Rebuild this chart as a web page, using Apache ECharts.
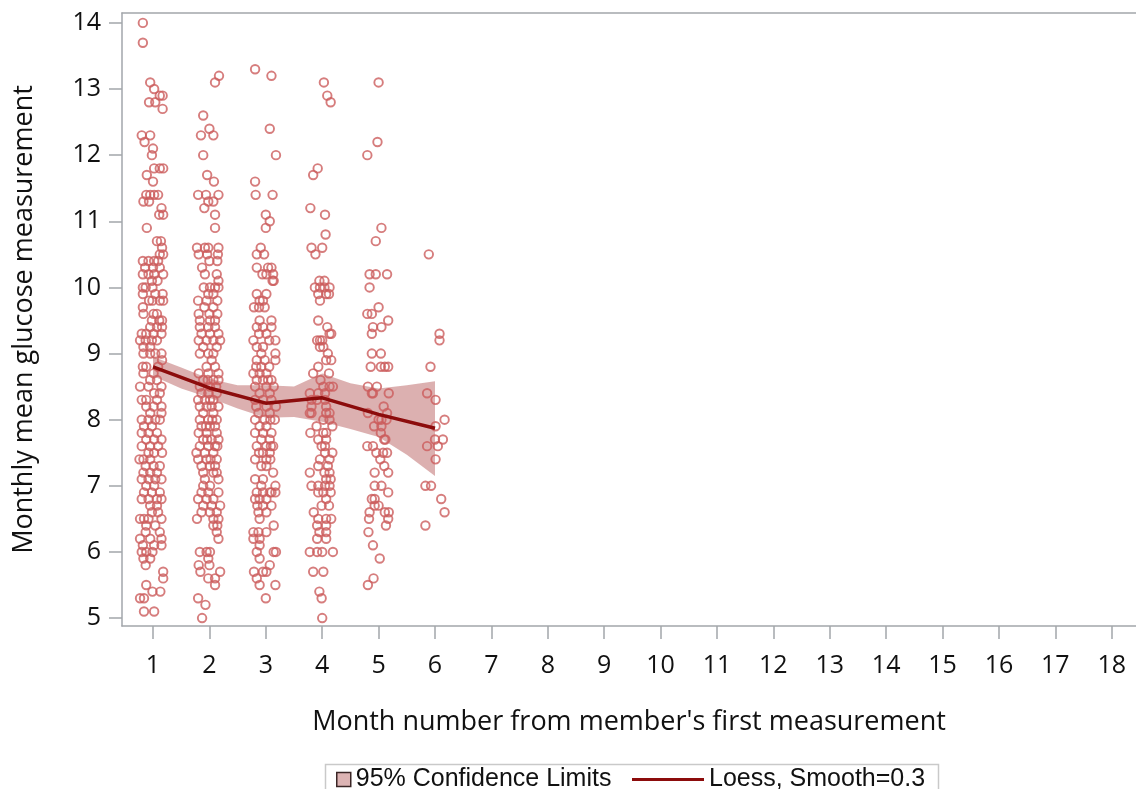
<!DOCTYPE html>
<html>
<head>
<meta charset="utf-8">
<title>Monthly mean glucose by month number</title>
<script src="https://cdn.jsdelivr.net/npm/echarts@6/dist/echarts.min.js"></script>
<style>
  html, body { margin: 0; padding: 0; background: #ffffff; }
  #chart { width: 1136px; height: 789px; }
</style>
</head>
<body>
<div id="chart"></div>
<script>
// Tick values
const monthTicks = [1, 2, 3, 4, 5, 6, 7, 8, 9, 10, 11, 12, 13, 14, 15, 16, 17, 18];
const glucoseTicks = [5, 6, 7, 8, 9, 10, 11, 12, 13, 14];

// Member observations per month: [horizontal jitter (months), monthly mean glucose]
const month1 = [
  [-0.18,14.0],[-0.18,13.7],[-0.05,13.1],[0.02,13.0],[0.12,12.9],[0.17,12.9],[-0.07,12.8],[0.04,12.8],[0.17,12.7],
  [-0.2,12.3],[-0.05,12.3],[-0.15,12.2],[0,12.1],[-0.02,12.0],[0.02,11.8],[0.12,11.8],[0.18,11.8],[-0.11,11.7],
  [0,11.6],[-0.12,11.4],[-0.05,11.4],[0.02,11.4],[0.09,11.4],[-0.17,11.3],[-0.07,11.3],[0.15,11.2],[0.11,11.1],
  [0.18,11.1],[-0.11,10.9],[0.07,10.7],[0.14,10.7],[0.16,10.6],[0.12,10.5],[0.18,10.5],[-0.18,10.4],[-0.08,10.4],
  [0.02,10.4],[0.09,10.4],[-0.14,10.3],[0,10.3],[0.12,10.3],[-0.18,10.2],[-0.08,10.2],[0.02,10.2],[0.18,10.2],
  [-0.02,10.1],[0.08,10.1],[-0.18,10.0],[-0.13,10.0],[-0.01,10.0],[-0.18,9.9],[0.04,9.9],[0.17,9.9],[-0.07,9.8],
  [-0.01,9.8],[0.12,9.8],[0.18,9.8],[-0.18,9.7],[-0.17,9.6],[0.01,9.6],[0.07,9.6],[-0.02,9.5],[0.11,9.5],[0.16,9.5],
  [-0.05,9.4],[0.07,9.4],[0.16,9.4],[-0.2,9.3],[-0.12,9.3],[0.01,9.3],[0.15,9.3],[-0.23,9.2],[-0.13,9.2],[-0.02,9.2],
  [0.07,9.2],[-0.17,9.1],[-0.05,9.1],[-0.17,9.0],[-0.05,9.0],[0.04,9.0],[0.15,9.0],[0.16,8.9],[-0.18,8.8],[-0.12,8.8],
  [0.09,8.8],[-0.17,8.7],[0.01,8.7],[-0.05,8.6],[0.07,8.6],[-0.23,8.5],[-0.08,8.5],[0.15,8.5],[0.02,8.4],[0.12,8.4],
  [-0.2,8.3],[-0.12,8.3],[0.07,8.3],[-0.12,8.2],[0.01,8.2],[0.15,8.2],[-0.05,8.1],[0.15,8.1],[-0.2,8.0],[-0.08,8.0],
  [0.04,8.0],[0.12,8.0],[-0.16,7.9],[-0.02,7.9],[-0.2,7.8],[-0.08,7.8],[0.07,7.8],[-0.12,7.7],[0.02,7.7],[0.15,7.7],
  [-0.2,7.6],[-0.05,7.6],[0.09,7.6],[-0.08,7.5],[0.02,7.5],[0.16,7.5],[-0.24,7.4],[-0.17,7.4],[-0.05,7.4],[-0.13,7.3],
  [0.01,7.3],[0.12,7.3],[-0.17,7.2],[-0.05,7.2],[0.07,7.2],[-0.2,7.1],[-0.08,7.1],[0.04,7.1],[0.15,7.1],[-0.12,7.0],
  [0.02,7.0],[-0.16,6.9],[-0.02,6.9],[0.12,6.9],[-0.2,6.8],[-0.08,6.8],[0.07,6.8],[0.15,6.8],[-0.05,6.7],[0.07,6.7],
  [-0.02,6.6],[0.09,6.6],[-0.23,6.5],[-0.16,6.5],[-0.08,6.5],[0.15,6.5],[-0.12,6.4],[0.04,6.4],[-0.13,6.3],[0.12,6.3],
  [-0.23,6.2],[-0.05,6.2],[0.15,6.2],[-0.18,6.1],[0.02,6.1],[0.15,6.1],[-0.2,6.0],[-0.12,6.0],[-0.01,6.0],[-0.17,5.9],
  [-0.05,5.9],[-0.13,5.8],[0.18,5.7],[0.18,5.6],[-0.12,5.5],[-0.01,5.4],[0.13,5.4],[-0.23,5.3],[-0.16,5.3],
  [-0.16,5.1],[0.02,5.1]
];
const month2 = [
  [0.17,13.2],[0.1,13.1],[-0.11,12.6],[0,12.4],[-0.15,12.3],[0.07,12.3],[-0.11,12.0],[-0.04,11.7],[0.08,11.6],
  [-0.2,11.4],[-0.06,11.4],[0.16,11.4],[-0.02,11.3],[0.07,11.3],[-0.09,11.2],[0.1,11.1],[0.1,10.9],[-0.22,10.6],
  [-0.08,10.6],[-0.02,10.6],[0.16,10.6],[-0.19,10.5],[-0.04,10.5],[0.15,10.5],[0,10.4],[0.14,10.4],[-0.13,10.3],
  [-0.08,10.2],[0.13,10.2],[0.16,10.1],[-0.1,10.0],[0.01,10.0],[0.1,10.0],[0.16,10.0],[-0.02,9.9],[0.07,9.9],
  [-0.2,9.8],[-0.05,9.8],[0.14,9.8],[-0.09,9.7],[0.07,9.7],[-0.19,9.6],[0,9.6],[0.14,9.6],[-0.17,9.5],[0.01,9.5],
  [0.1,9.5],[-0.17,9.4],[-0.02,9.4],[0.1,9.4],[-0.14,9.3],[0.01,9.3],[0.16,9.3],[-0.19,9.2],[-0.05,9.2],[0.07,9.2],
  [0.19,9.2],[-0.11,9.1],[0.13,9.1],[-0.17,9.0],[-0.02,9.0],[0.07,9.0],[0.04,8.9],[-0.05,8.8],[0.1,8.8],[-0.19,8.7],
  [-0.02,8.7],[0.16,8.7],[-0.11,8.6],[-0.03,8.6],[0.07,8.6],[0.16,8.6],[-0.17,8.5],[0.01,8.5],[0.12,8.5],[-0.14,8.4],
  [-0.02,8.4],[0.13,8.4],[-0.2,8.3],[-0.08,8.3],[0.01,8.3],[0.07,8.3],[-0.17,8.2],[-0.05,8.2],[0.04,8.2],[0.16,8.2],
  [-0.11,8.1],[0.07,8.1],[-0.17,8.0],[-0.02,8.0],[0.05,8.0],[0.13,8.0],[-0.14,7.9],[-0.06,7.9],[0.01,7.9],[0.1,7.9],
  [-0.19,7.8],[-0.05,7.8],[0.13,7.8],[-0.11,7.7],[-0.04,7.7],[0.04,7.7],[0.16,7.7],[-0.17,7.6],[-0.02,7.6],[0.1,7.6],
  [0.14,7.6],[-0.23,7.5],[-0.08,7.5],[0.07,7.5],[-0.2,7.4],[-0.05,7.4],[0.02,7.4],[0.13,7.4],[-0.14,7.3],[0.01,7.3],
  [0.1,7.3],[-0.11,7.2],[0.07,7.2],[0.13,7.2],[-0.08,7.1],[0.16,7.1],[-0.11,7.0],[0.01,7.0],[-0.14,6.9],[-0.02,6.9],
  [0.16,6.9],[-0.2,6.8],[-0.05,6.8],[0.07,6.8],[-0.11,6.7],[0.04,6.7],[0.19,6.7],[-0.14,6.6],[0.01,6.6],[0.13,6.6],
  [-0.22,6.5],[0.07,6.5],[0.16,6.5],[0.07,6.4],[0.14,6.4],[0.13,6.3],[0.16,6.2],[-0.17,6.0],[-0.05,6.0],[0.01,6.0],
  [-0.02,5.9],[-0.19,5.8],[0,5.8],[-0.16,5.7],[0.19,5.7],[-0.02,5.6],[0.1,5.6],[0.1,5.5],[-0.2,5.3],[-0.07,5.2],
  [-0.13,5.0]
];
const month3 = [
  [-0.19,13.3],[0.1,13.2],[0.07,12.4],[0.18,12.0],[-0.19,11.6],[-0.18,11.4],[0.12,11.4],[0,11.1],[0.07,11.0],
  [0,10.9],[-0.09,10.6],[-0.16,10.5],[-0.03,10.5],[-0.16,10.3],[0.04,10.3],[0.1,10.3],[-0.06,10.2],[0.01,10.2],
  [0.13,10.2],[0.12,10.1],[0.14,10.1],[-0.16,9.9],[0.01,9.9],[-0.11,9.8],[-0.05,9.8],[-0.21,9.7],[-0.12,9.7],
  [-0.02,9.7],[-0.11,9.5],[0.1,9.5],[-0.16,9.4],[-0.05,9.4],[0.1,9.4],[-0.12,9.3],[0.01,9.3],[-0.22,9.2],[0.06,9.2],
  [0.17,9.2],[-0.16,9.1],[-0.05,9.1],[-0.08,9.0],[0.17,9.0],[-0.16,8.9],[-0.02,8.9],[0.17,8.9],[-0.17,8.8],[-0.08,8.8],
  [0.06,8.8],[-0.22,8.7],[-0.11,8.7],[0.01,8.7],[-0.16,8.6],[-0.05,8.6],[0.04,8.6],[0.1,8.6],[-0.19,8.5],[0.01,8.5],
  [0.14,8.5],[-0.11,8.4],[0.07,8.4],[-0.19,8.3],[-0.05,8.3],[0.1,8.3],[-0.17,8.2],[0.01,8.2],[0.18,8.2],[-0.13,8.1],
  [0.07,8.1],[-0.19,8.0],[-0.02,8.0],[0.08,8.0],[0.16,8.0],[-0.11,7.9],[0.01,7.9],[-0.19,7.8],[-0.05,7.8],[0.1,7.8],
  [-0.08,7.7],[0.07,7.7],[-0.16,7.6],[0.01,7.6],[0.09,7.6],[0.13,7.6],[-0.12,7.5],[-0.05,7.5],[0.07,7.5],[-0.19,7.4],
  [0.01,7.4],[0.08,7.4],[-0.08,7.3],[0.01,7.3],[0.13,7.2],[-0.19,7.1],[-0.05,7.1],[-0.08,7.0],[0.17,7.0],[-0.16,6.9],
  [-0.05,6.9],[0.07,6.9],[0.1,6.9],[0.17,6.9],[-0.19,6.8],[-0.11,6.8],[0.01,6.8],[-0.15,6.7],[-0.05,6.7],[0.1,6.7],
  [-0.13,6.6],[0.01,6.6],[-0.11,6.5],[0.14,6.4],[-0.22,6.3],[-0.13,6.3],[0.01,6.3],[-0.22,6.2],[-0.11,6.2],[-0.11,6.1],
  [-0.16,6.0],[0.14,6.0],[0.18,6.0],[-0.11,5.9],[0.07,5.8],[-0.21,5.7],[-0.05,5.7],[0.01,5.7],[-0.16,5.6],[-0.11,5.5],
  [0.17,5.5],[0,5.3]
];
const month4 = [
  [0.03,13.1],[0.09,12.9],[0.15,12.8],[-0.08,11.8],[-0.16,11.7],[-0.21,11.2],[0.05,11.1],[0.06,10.8],[-0.19,10.6],
  [0,10.6],[-0.12,10.5],[-0.05,10.1],[0.04,10.1],[-0.13,10.0],[-0.04,10.0],[0.04,10.0],[0.13,10.0],[-0.07,9.9],
  [0.07,9.9],[0.12,9.9],[-0.04,9.8],[-0.07,9.5],[0.09,9.4],[0.13,9.3],[0.16,9.3],[-0.09,9.2],[-0.04,9.2],[0,9.2],
  [-0.04,9.1],[0.02,9.1],[0.1,9.0],[0.07,8.9],[0.16,8.9],[-0.07,8.8],[-0.16,8.7],[0.12,8.7],[-0.03,8.6],[0.02,8.5],
  [0.13,8.5],[0.19,8.5],[-0.22,8.4],[-0.07,8.4],[0.05,8.4],[-0.19,8.3],[-0.09,8.3],[0.05,8.3],[-0.19,8.2],[0.07,8.2],
  [-0.22,8.1],[-0.19,8.1],[0.07,8.1],[0.13,8.1],[0.02,8.0],[0.13,8.0],[-0.1,7.9],[0.18,7.9],[-0.21,7.8],[0.02,7.8],
  [0.07,7.8],[-0.07,7.7],[0.07,7.7],[-0.01,7.6],[0.05,7.6],[0.05,7.5],[0.18,7.5],[-0.04,7.4],[0.13,7.4],[-0.07,7.3],
  [0.1,7.3],[-0.22,7.2],[0.04,7.2],[0.13,7.2],[0.07,7.1],[0.15,7.1],[-0.19,7.0],[-0.07,7.0],[0.05,7.0],[0.13,7.0],
  [-0.07,6.9],[0.02,6.9],[0.15,6.9],[0.07,6.8],[-0.01,6.7],[0.12,6.7],[-0.15,6.6],[-0.07,6.5],[0.07,6.5],[0.16,6.5],
  [-0.09,6.4],[0.07,6.4],[-0.05,6.3],[0.07,6.3],[-0.09,6.2],[0.07,6.2],[-0.22,6.0],[-0.09,6.0],[0,6.0],[0.19,6.0],
  [-0.16,5.7],[0.02,5.7],[-0.05,5.4],[-0.01,5.3],[0,5.0]
];
const month5 = [
  [0,13.1],[-0.02,12.2],[-0.2,12.0],[0.05,10.9],[-0.05,10.7],[-0.16,10.2],[-0.05,10.2],[0.15,10.2],[-0.16,10.0],
  [0,9.7],[-0.2,9.6],[-0.12,9.6],[0.17,9.5],[-0.1,9.4],[0.05,9.4],[-0.12,9.3],[-0.12,9.0],[0.04,9.0],[-0.14,8.8],
  [0.04,8.8],[0.11,8.8],[0.17,8.8],[-0.19,8.5],[-0.03,8.5],[-0.12,8.4],[-0.1,8.4],[0.18,8.4],[0.09,8.2],[0.15,8.1],
  [-0.19,8.1],[0,8.0],[0.05,8.0],[0.14,8.0],[-0.08,7.9],[0.05,7.9],[0.04,7.8],[0.1,7.7],[0.12,7.7],[-0.2,7.6],
  [-0.1,7.6],[-0.04,7.5],[0.08,7.5],[0.15,7.5],[0.03,7.4],[0.1,7.3],[0.17,7.2],[-0.07,7.2],[-0.07,7.0],[0.05,7.0],
  [0.17,6.9],[-0.12,6.8],[-0.07,6.8],[-0.07,6.7],[0,6.7],[0.11,6.6],[0.18,6.6],[-0.16,6.6],[-0.17,6.5],[0.17,6.5],
  [0.13,6.4],[-0.18,6.3],[-0.1,6.1],[0.02,5.9],[-0.09,5.6],[-0.19,5.5]
];
const month6 = [
  [-0.11,10.5],[0.08,9.3],[0.08,9.2],[-0.08,8.8],[-0.14,8.4],[0.01,8.3],[0.17,8.0],[0.01,7.9],[0,7.7],[0.14,7.7],
  [0.05,7.6],[-0.14,7.6],[0.01,7.4],[-0.17,7.0],[-0.07,7.0],[0.11,6.8],[0.17,6.6],[-0.17,6.4]
];

// Loess fit (smooth = 0.3) evaluated at each month
const loessMonths = [1, 2, 3, 4, 5, 6];
const loessValues = [8.80, 8.48, 8.25, 8.33, 8.08, 7.87];

// 95% confidence limits for the loess fit
const bandMonths = [1, 1.5, 2, 2.5, 3, 3.5, 4, 4.5, 5, 5.5, 6];
const bandUpper  = [8.95, 8.79, 8.62, 8.52, 8.52, 8.50, 8.70, 8.55, 8.47, 8.52, 8.58];
const bandLower  = [8.66, 8.47, 8.33, 8.17, 8.03, 8.04, 7.97, 7.86, 7.74, 7.47, 7.15];

const monthGroups = [month1, month2, month3, month4, month5, month6];
const scatterData = [];
monthGroups.forEach((group, i) => {
  const month = i + 1;
  group.forEach(([jitter, value]) => scatterData.push([month + jitter, value]));
});

const AXIS_GREY = '#a2a6ab';
const TEXT = '#111111';
const MARKER = '#cc5c5c';
const FIT = '#8c0c0c';
const BAND_FILL = 'rgba(188, 104, 104, 0.52)';
const BAND_SWATCH = '#dcb3b3';
const LEGEND_FONT = { fontFamily: 'Liberation Sans', fontSize: 25, color: TEXT };

const chart = echarts.init(document.getElementById('chart'), null, { renderer: 'canvas' });

chart.setOption({
  animation: false,
  backgroundColor: '#ffffff',
  grid: { left: 122, top: 13, right: 0, bottom: 163, containLabel: false },
  xAxis: [
    {
      type: 'value', min: 0.45, max: 18.43,
      name: 'Month number from member\'s first measurement',
      nameLocation: 'middle', nameGap: 83,
      nameTextStyle: { fontFamily: 'Open Sans', fontSize: 27, color: TEXT },
      axisLine: { show: true, onZero: false, lineStyle: { color: AXIS_GREY, width: 1.5 } },
      axisTick: { show: true, length: 13, customValues: monthTicks, lineStyle: { color: AXIS_GREY, width: 1.5 } },
      axisLabel: { customValues: monthTicks, margin: 27, fontFamily: 'Open Sans', fontSize: 25, color: TEXT },
      splitLine: { show: false }
    },
    {
      type: 'value', position: 'top', min: 0.45, max: 18.43,
      axisLine: { show: true, onZero: false, lineStyle: { color: AXIS_GREY, width: 1.5 } },
      axisTick: { show: false }, axisLabel: { show: false }, splitLine: { show: false }
    }
  ],
  yAxis: {
    type: 'value', min: 4.88, max: 14.15,
    name: 'Monthly mean glucose measurement',
    nameLocation: 'middle', nameGap: 84,
    nameTextStyle: { fontFamily: 'Open Sans', fontSize: 27, color: TEXT },
    axisLine: { show: true, onZero: false, lineStyle: { color: AXIS_GREY, width: 1.5 } },
    axisTick: { show: true, length: 13, customValues: glucoseTicks, lineStyle: { color: AXIS_GREY, width: 1.5 } },
    axisLabel: { customValues: glucoseTicks, margin: 21, fontFamily: 'Open Sans', fontSize: 25, color: TEXT },
    splitLine: { show: false }
  },
  legend: [
    {
      data: [{ name: '95% Confidence Limits', icon: 'rect',
               itemStyle: { color: BAND_SWATCH, borderColor: '#3a2626', borderWidth: 1.5 } }],
      left: 331, top: 762, itemWidth: 14, itemHeight: 14, selectedMode: false,
      textStyle: LEGEND_FONT
    },
    {
      data: [{ name: 'Loess, Smooth=0.3', icon: 'rect' }],
      left: 627, top: 762, itemWidth: 72, itemHeight: 3, selectedMode: false,
      textStyle: LEGEND_FONT
    }
  ],
  graphic: [
    { type: 'rect', left: 323, top: 762, silent: true,
      shape: { width: 613, height: 40 },
      style: { fill: 'none', stroke: '#c9c9c9', lineWidth: 1.5 } }
  ],
  series: [
    {
      type: 'custom', name: '95% Confidence Limits',
      coordinateSystem: 'cartesian2d', z: 1,
      itemStyle: { color: BAND_SWATCH },
      data: bandMonths.map((m, i) => [m, bandLower[i], bandUpper[i]]),
      encode: { x: 0, y: [1, 2] },
      renderItem: function (params, api) {
        if (params.dataIndex !== 0) return null;
        const upper = bandMonths.map((m, i) => api.coord([m, bandUpper[i]]));
        const lower = bandMonths.map((m, i) => api.coord([m, bandLower[i]])).reverse();
        return {
          type: 'polygon',
          shape: { points: upper.concat(lower) },
          style: { fill: BAND_FILL, stroke: 'none' }
        };
      }
    },
    {
      type: 'scatter', name: 'Observations', z: 2,
      symbol: 'circle', symbolSize: 8.5,
      itemStyle: { color: 'rgba(255,255,255,0)', borderColor: MARKER, borderWidth: 1.9 },
      data: scatterData
    },
    {
      type: 'line', name: 'Loess, Smooth=0.3', z: 3,
      showSymbol: false, smooth: false,
      itemStyle: { color: FIT },
      lineStyle: { color: FIT, width: 3.5 },
      data: loessMonths.map((m, i) => [m, loessValues[i]])
    }
  ]
});
</script>
</body>
</html>
